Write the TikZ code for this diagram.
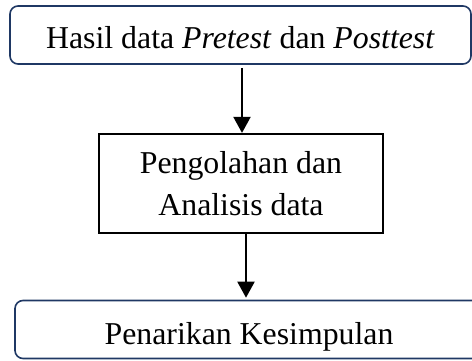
\documentclass[tikz,border=0pt]{standalone}
\usepackage{fontspec}
\setmainfont{Liberation Serif}
\usetikzlibrary{arrows.meta,positioning}
\definecolor{boxnavy}{RGB}{31,56,100}
\tikzset{
  base/.style={
    rectangle,align=center,inner sep=0pt,
    font=\fontsize{31.8}{42}\selectfont
  },
  roundbox/.style={
    base,rounded corners=8pt,draw=boxnavy,line width=1.6pt,
    minimum height=58pt
  },
  procbox/.style={base,draw=black,line width=2.2pt},
  arrow/.style={-{Triangle[length=16pt,width=17pt]},line width=2pt,draw=black}
}

\begin{document}
\begin{tikzpicture}[x=1pt,y=1pt]
    \clip (0,0) rectangle (472,360);
    \node[roundbox,minimum width=461pt,text height=26pt,text depth=0pt]
      (hasil) at (240.5,325) {Hasil data \textit{Pretest} dan \textit{Posttest}};
    \node[procbox,minimum width=284pt,minimum height=99pt] (olah)
      at (241,176.5) {Pengolahan dan\\Analisis data};
    \node[roundbox,minimum width=468pt,text height=30pt,text depth=0pt]
      (simpul) at (249,30.5) {Penarikan Kesimpulan};

    \draw[arrow,shorten <=3pt] ([xshift=1.5pt]hasil.south)
      -- ([xshift=1.5pt]hasil.south |- olah.north);
    \draw[arrow,shorten >=2pt] ([xshift=5pt]olah.south)
      -- ([xshift=5pt]olah.south |- simpul.north);
  \end{tikzpicture}
\end{document}
